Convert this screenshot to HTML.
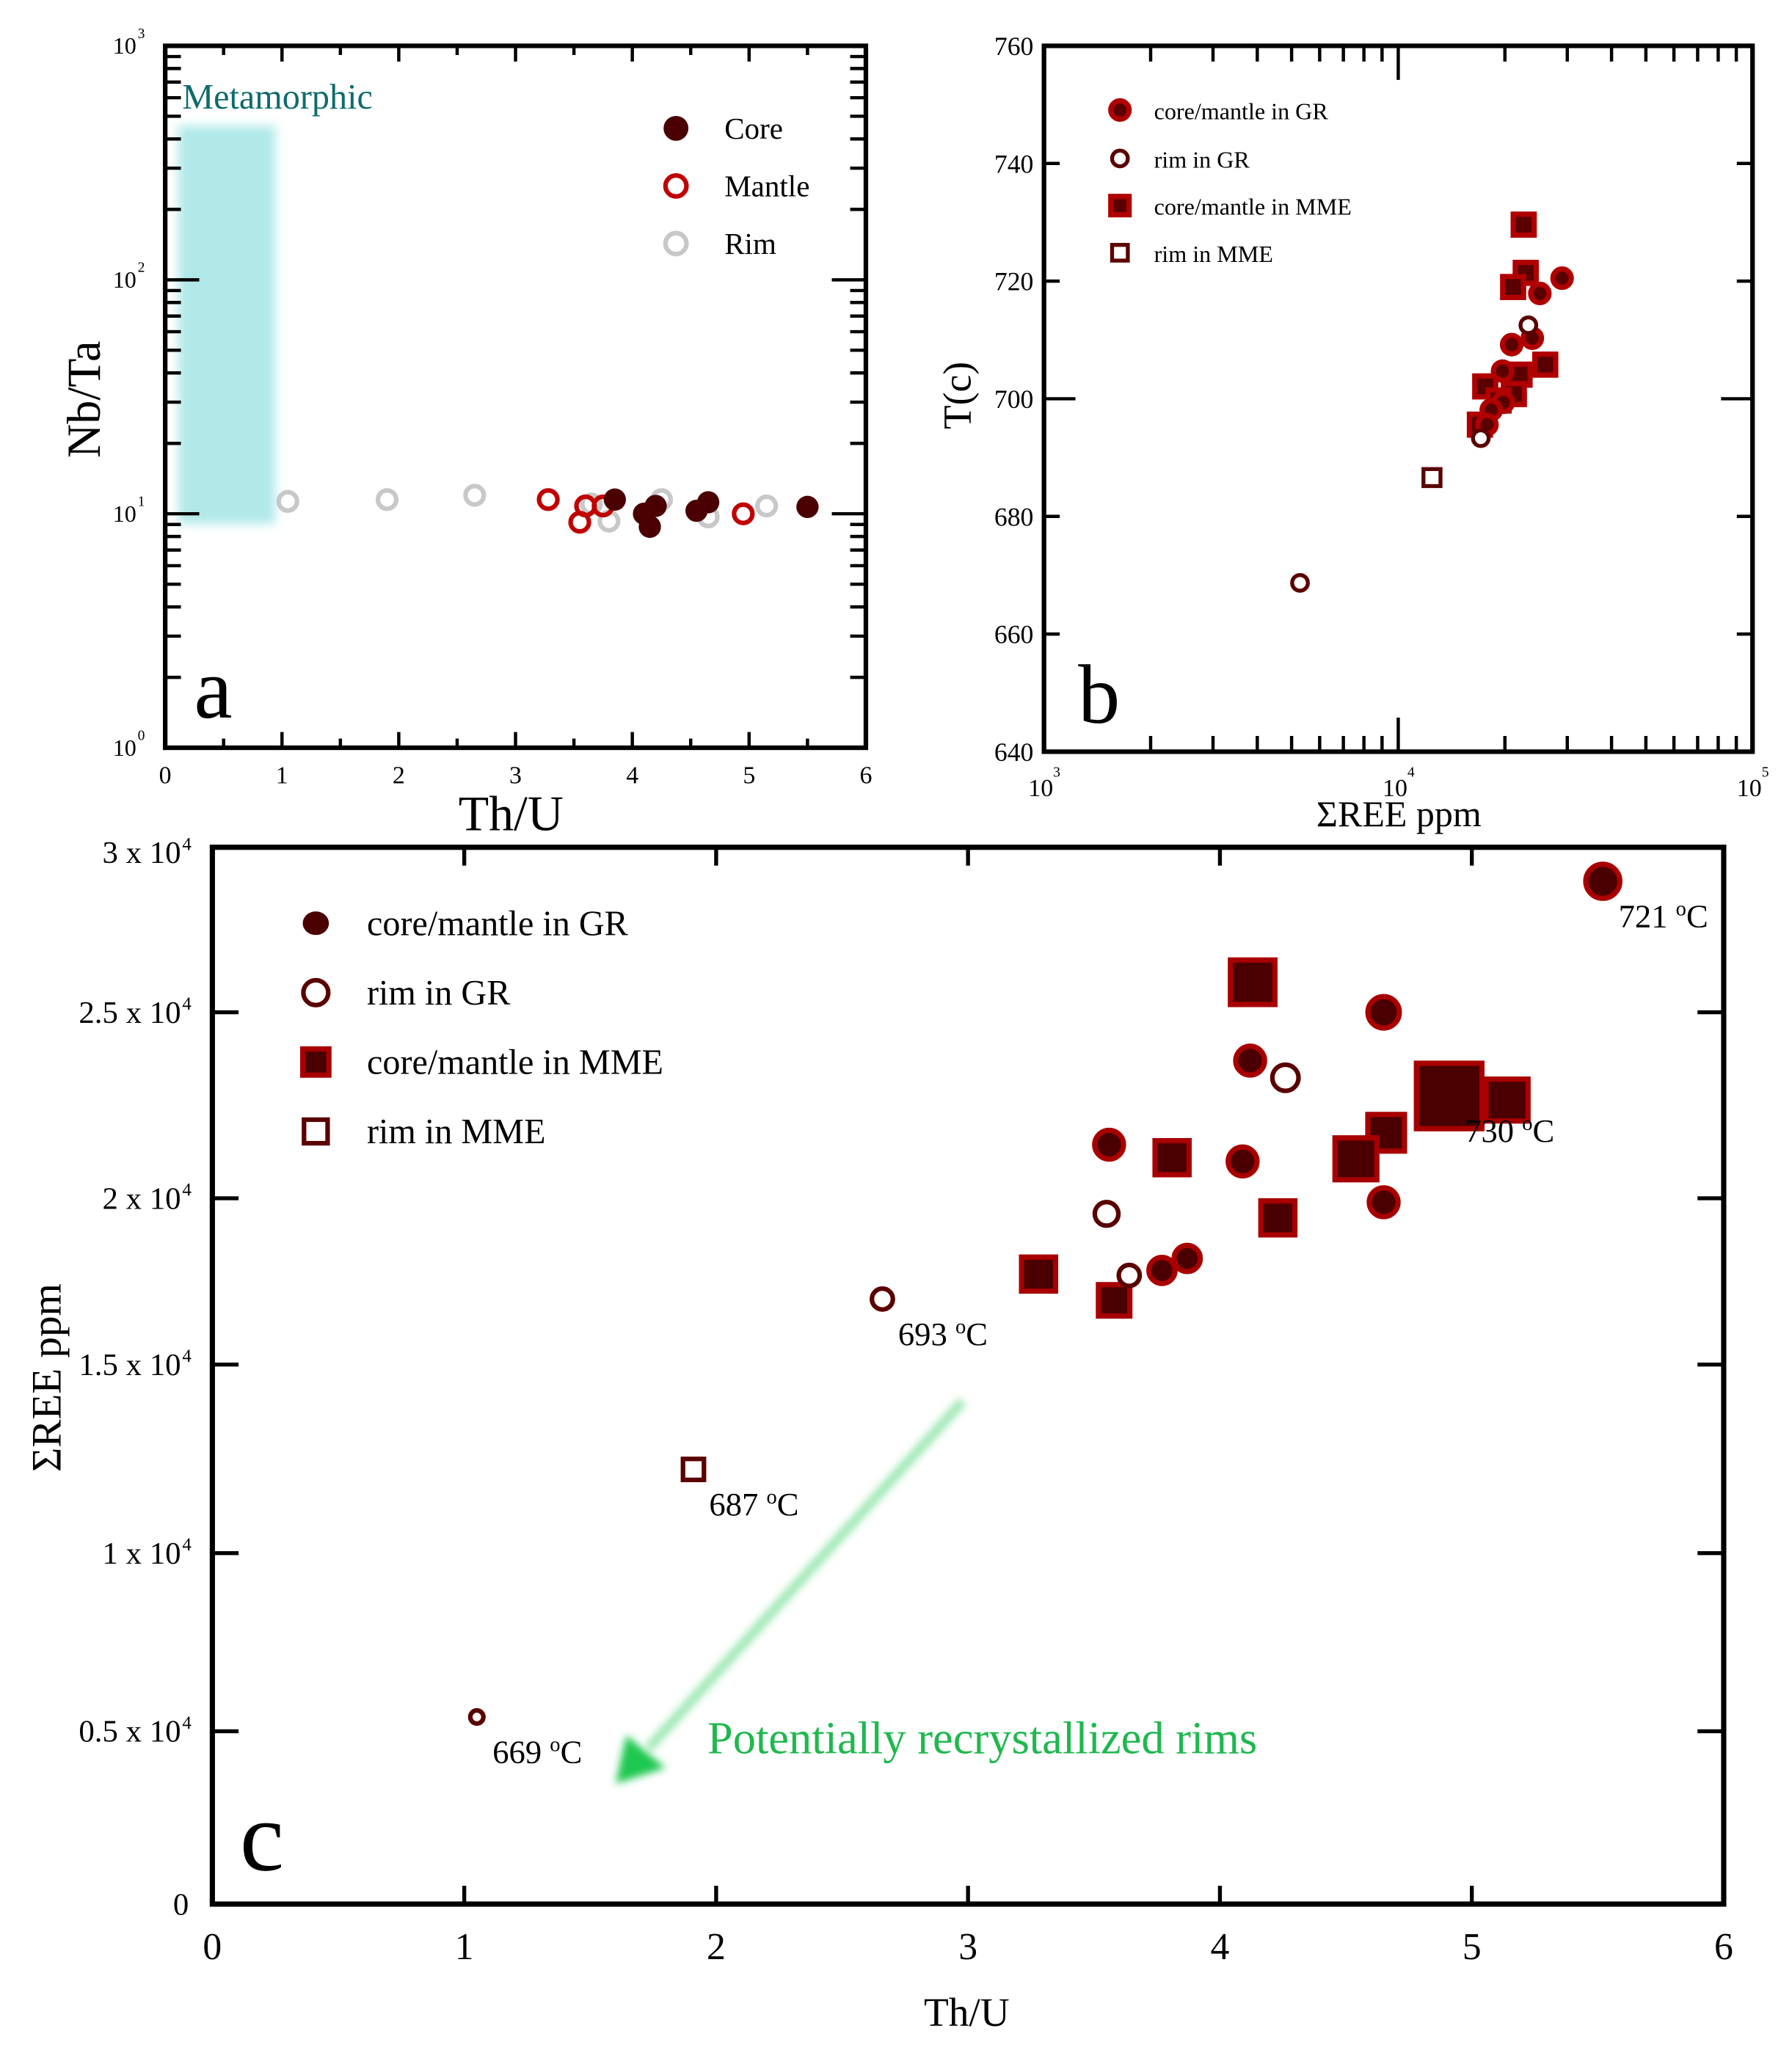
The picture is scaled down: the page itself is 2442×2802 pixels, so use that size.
<!DOCTYPE html>
<html><head><meta charset="utf-8"><style>
html,body{margin:0;padding:0;background:#fff}
svg{display:block;font-family:"Liberation Serif",serif}
</style></head><body>
<svg id="fig" width="2442" height="2802" viewBox="0 0 1368 1570" xmlns="http://www.w3.org/2000/svg">
<defs>
<filter id="blur6" x="-20%" y="-20%" width="140%" height="140%"><feGaussianBlur stdDeviation="4"/></filter>
<filter id="blur3" x="-20%" y="-20%" width="140%" height="140%"><feGaussianBlur stdDeviation="3"/></filter>
</defs>
<g id="pa"></g>
<g id="pb"></g>
<g id="pc"></g>
</svg>
<script>
// ---------- Panel a data ----------
const aRimX=[1.05,1.9,2.65,3.65,3.8,4.25,4.65,5.15];
const aRimY=[11.3,11.5,12,11,9.3,11.5,9.7,10.8];
const aMantleX=[3.28,3.55,3.6,3.75,4.95];
const aMantleY=[11.5,9.2,10.8,10.8,10];
const aCoreX=[3.85,4.1,4.15,4.2,4.55,4.65,5.5];
const aCoreY=[11.5,10,8.8,10.8,10.3,11.2,10.7];
const aXTicks=[0,1,2,3,4,5,6];
const aYTicks=[0,1,2,3];
// ---------- Panel b data ----------
const bGrX=[29000,25100,20900,23900,19700,19800,18300,17800];
const bGrT=[720.5,717.9,709.2,710.3,704.7,699.4,698.1,695.6];
const bRimGrX=[5280,23300,17100];
const bRimGrT=[668.7,712.5,693.3];
const bMmeX=[22600,22900,21100,26000,22000,21200,17600,17000,19200];
const bMmeT=[729.6,721.4,719,705.8,704.1,700.8,702.1,695.6,699.7];
const bRimMmeX=[12450];
const bRimMmeT=[686.6];
const bYTicks=[640,660,680,700,720,740,760];
// ---------- Panel c data ----------
const cGrX=[5.52,4.65,4.12,3.56,4.09,4.65,3.77,3.87];
const cGrY=[29100,25000,23700,21440,20990,19880,17830,18190];
const cGrR=[13,12,11,11,11,11,10,10];
const cRimGrX=[4.26,3.55,3.64,2.66,1.05];
const cRimGrY=[23240,19530,17680,16970,5400];
const cRimGrR=[11,10,9,9,6];
const cMmeX=[4.13,4.91,5.14,4.66,4.54,3.81,4.23,3.28,3.58];
const cMmeY=[25940,22750,22640,21760,21060,21090,19410,17720,16930];
const cMmeS=[17,25,16,14,16,13,13,13,12];
const cRimMmeX=[1.91];
const cRimMmeY=[12220];
const cRimMmeS=[8];
const cYTickVals=[0,5000,10000,15000,20000,25000,30000];
const cYTickLabels=["0","0.5 x 10","1 x 10","1.5 x 10","2 x 10","2.5 x 10","3 x 10"];
const cXTicks=[0,1,2,3,4,5,6];
const cTempLabels=["721","730","693","687","669"];
const cTempX=[5.52,4.91,2.66,1.91,1.05];
const cTempY=[29100,22750,16970,12220,5400];

const NS="http://www.w3.org/2000/svg";
function mk(parent,tag,attrs,text){const e=document.createElementNS(NS,tag);for(const k in attrs)e.setAttribute(k,attrs[k]);if(text!==undefined)e.textContent=text;parent.appendChild(e);return e;}
const DARK="#4a0000",RED="#a80000",RIM="#5a0000";

// ===== Panel A =====
(function(){
const g=document.getElementById('pa');
const L=126,R=661,T=35,B=571;
const xs=v=>L+(v/6)*(R-L);
const ys=v=>B-(Math.log10(v)/3)*(B-T);
let e=mk(g,'rect',{x:136,y:96,width:74,height:304,fill:'#b0e8e8',filter:'url(#blur6)'});

e=mk(g,'text',{x:139,y:83,fill:'#0f6b6b','font-size':27},'Metamorphic');

e=mk(g,'rect',{x:L,y:T,width:R-L,height:B-T,fill:'none',stroke:'#000','stroke-width':3.5});

for(let v=0;v<=6;v+=0.5){const x=xs(v);const len=Number.isInteger(v)?12:7;
 mk(g,'line',{x1:x,y1:T,x2:x,y2:T+len,stroke:'#000','stroke-width':2.5});
 mk(g,'line',{x1:x,y1:B,x2:x,y2:B-len,stroke:'#000','stroke-width':2.5});}
aXTicks.forEach(v=>{e=mk(g,'text',{x:xs(v),y:598,'font-size':19,'text-anchor':'middle'},String(v));
 });
for(let d=0;d<3;d++){for(let m=2;m<=9;m++){const y=ys(m*Math.pow(10,d));
 mk(g,'line',{x1:L,y1:y,x2:L+12,y2:y,stroke:'#000','stroke-width':2.5});
 mk(g,'line',{x1:R,y1:y,x2:R-12,y2:y,stroke:'#000','stroke-width':2.5});}}
aYTicks.forEach(p=>{const y=ys(Math.pow(10,p));
 mk(g,'line',{x1:L,y1:y,x2:L+26,y2:y,stroke:'#000','stroke-width':2.5});
 mk(g,'line',{x1:R,y1:y,x2:R-26,y2:y,stroke:'#000','stroke-width':2.5});
 e=mk(g,'text',{x:86,y:y+6,'font-size':18},'10');
 
 mk(g,'text',{x:105,y:y-6,'font-size':11},String(p));});
e=mk(g,'text',{x:0,y:0,'font-size':36,'text-anchor':'middle',transform:'translate(76,305) rotate(-90)'},'Nb/Ta');

e=mk(g,'text',{x:390,y:634,'font-size':38,'text-anchor':'middle'},'Th/U');

e=mk(g,'text',{x:148,y:548,'font-size':66},'a');

aRimX.forEach((v,i)=>{e=mk(g,'circle',{cx:xs(v),cy:ys(aRimY[i]),r:7,fill:'none',stroke:'#c8c8c8','stroke-width':3.5});
 });
aMantleX.forEach((v,i)=>{e=mk(g,'circle',{cx:xs(v),cy:ys(aMantleY[i]),r:7,fill:'none',stroke:'#c00000','stroke-width':3.5});
 });
aCoreX.forEach((v,i)=>{e=mk(g,'circle',{cx:xs(v),cy:ys(aCoreY[i]),r:8.5,fill:'#4a0000'});
 });
const lg=mk(g,'g',{});
mk(lg,'circle',{cx:516,cy:98,r:9.5,fill:'#4a0000'});
mk(lg,'circle',{cx:516,cy:142,r:8,fill:'none',stroke:'#c00000','stroke-width':3.5});
mk(lg,'circle',{cx:516,cy:186,r:8,fill:'none',stroke:'#c8c8c8','stroke-width':3.5});
mk(lg,'text',{x:553,y:106,'font-size':23},'Core');
mk(lg,'text',{x:553,y:150,'font-size':23},'Mantle');
mk(lg,'text',{x:553,y:194,'font-size':23},'Rim');
})();

// ===== Panel B =====
(function(){
const g=document.getElementById('pb');
const L=797,R=1338,T=35,B=574;
const xs=v=>L+((Math.log10(v)-3)/2)*(R-L);
const ys=v=>B-((v-640)/120)*(B-T);
let e=mk(g,'rect',{x:L,y:T,width:R-L,height:B-T,fill:'none',stroke:'#000','stroke-width':3.5});

for(let d=3;d<5;d++){for(let m=2;m<=9;m++){const x=xs(m*Math.pow(10,d));
 mk(g,'line',{x1:x,y1:T,x2:x,y2:T+12,stroke:'#000','stroke-width':2.5});
 mk(g,'line',{x1:x,y1:B,x2:x,y2:B-12,stroke:'#000','stroke-width':2.5});}}
[4].forEach(p=>{const x=xs(Math.pow(10,p));
 mk(g,'line',{x1:x,y1:T,x2:x,y2:T+26,stroke:'#000','stroke-width':2.5});
 mk(g,'line',{x1:x,y1:B,x2:x,y2:B-26,stroke:'#000','stroke-width':2.5});});
[3,4,5].forEach(p=>{const x=xs(Math.pow(10,p));
 e=mk(g,'text',{x:x-12,y:608,'font-size':19},'10');
 
 mk(g,'text',{x:x+7,y:593,'font-size':11},String(p));});
bYTicks.forEach(v=>{const y=ys(v);const len=(v===700)?24:12;
 mk(g,'line',{x1:L,y1:y,x2:L+len,y2:y,stroke:'#000','stroke-width':2.5});
 mk(g,'line',{x1:R,y1:y,x2:R-len,y2:y,stroke:'#000','stroke-width':2.5});
 e=mk(g,'text',{x:789,y:y+7,'font-size':20,'text-anchor':'end'},String(v));
 });
e=mk(g,'text',{x:0,y:0,'font-size':30,'text-anchor':'middle',transform:'translate(741,302) rotate(-90)'},'T(c)');

e=mk(g,'text',{x:1068,y:631,'font-size':28,'text-anchor':'middle'},'ΣREE ppm');

e=mk(g,'text',{x:823,y:552,'font-size':64},'b');

bRimMmeX.forEach((v,i)=>{e=mk(g,'rect',{x:xs(v)-6.5,y:ys(bRimMmeT[i])-6.5,width:13,height:13,fill:'#fff',stroke:RIM,'stroke-width':3});
 });
bMmeX.forEach((v,i)=>{const x=xs(v),y=ys(bMmeT[i]);
 e=mk(g,'rect',{x:x-8,y:y-8,width:16,height:16,fill:'#5a0000',stroke:'#b00000','stroke-width':4});
 });
bGrX.forEach((v,i)=>{const x=xs(v),y=ys(bGrT[i]);
 e=mk(g,'circle',{cx:x,cy:y,r:7,fill:'#5a0000',stroke:'#b00000','stroke-width':4});
 });
bRimGrX.forEach((v,i)=>{e=mk(g,'circle',{cx:xs(v),cy:ys(bRimGrT[i]),r:6,fill:'#fff',stroke:RIM,'stroke-width':3});
 });
const lg=mk(g,'g',{});
mk(lg,'circle',{cx:855,cy:84,r:7,fill:'#5a0000',stroke:'#b00000','stroke-width':4});
mk(lg,'circle',{cx:855,cy:121,r:6,fill:'#fff',stroke:RIM,'stroke-width':3});
mk(lg,'rect',{x:848,y:150,width:14,height:14,fill:'#5a0000',stroke:'#b00000','stroke-width':4});
mk(lg,'rect',{x:849,y:187,width:12,height:12,fill:'#fff',stroke:RIM,'stroke-width':3});
mk(lg,'text',{x:881,y:91,'font-size':18},'core/mantle in GR');
mk(lg,'text',{x:881,y:128,'font-size':18},'rim in GR');
mk(lg,'text',{x:881,y:164,'font-size':18},'core/mantle in MME');
mk(lg,'text',{x:881,y:200,'font-size':18},'rim in MME');
})();

// ===== Panel C =====
(function(){
const g=document.getElementById('pc');
const L=162,R=1316,T=647,B=1454;
const tickPx=[1454,1322,1186,1042,915,773,651];
const xs=v=>L+(v/6)*(R-L);
const ys=v=>{for(let i=0;i<cYTickVals.length-1;i++){const a=cYTickVals[i],b=cYTickVals[i+1];
 if(v<=b||i===cYTickVals.length-2){return tickPx[i]+(v-a)/(b-a)*(tickPx[i+1]-tickPx[i]);}}};
let e;
const ar=mk(g,'g',{filter:'url(#blur3)'});
mk(ar,'line',{x1:735,y1:1070,x2:495,y2:1335,stroke:'#9ae6b0','stroke-width':7});
mk(ar,'polygon',{points:'470,1362 478,1325 508,1350',fill:'#1ec850'});
e=mk(g,'text',{x:540,y:1339,'font-size':35,fill:'#1fb84e'},'Potentially recrystallized rims');

e=mk(g,'rect',{x:L,y:T,width:R-L,height:B-T,fill:'none',stroke:'#000','stroke-width':4});

cXTicks.forEach(v=>{const x=xs(v);
 mk(g,'line',{x1:x,y1:T,x2:x,y2:T+14,stroke:'#000','stroke-width':3});
 mk(g,'line',{x1:x,y1:B,x2:x,y2:B-14,stroke:'#000','stroke-width':3});
 e=mk(g,'text',{x:x,y:1496,'font-size':29,'text-anchor':'middle'},String(v));
 });
cYTickVals.forEach((v,i)=>{const y=ys(v);
 if(i>0&&i<cYTickVals.length-1){
 mk(g,'line',{x1:L,y1:y,x2:L+20,y2:y,stroke:'#000','stroke-width':3});
 mk(g,'line',{x1:R,y1:y,x2:R-20,y2:y,stroke:'#000','stroke-width':3});}
 const t=mk(g,'text',{x:i===0?144:138,y:y+8,'font-size':24,'text-anchor':'end'},cYTickLabels[i]);
 
 if(i>0)mk(g,'text',{x:139,y:y-2,'font-size':14},'4');});
e=mk(g,'text',{x:0,y:0,'font-size':32,'text-anchor':'middle',transform:'translate(46,1052) rotate(-90)'},'ΣREE ppm');

e=mk(g,'text',{x:738,y:1547,'font-size':31,'text-anchor':'middle'},'Th/U');

e=mk(g,'text',{x:183,y:1428,'font-size':76},'c');

cRimMmeX.forEach((v,i)=>{const s=cRimMmeS[i];e=mk(g,'rect',{x:xs(v)-s,y:ys(cRimMmeY[i])-s,width:2*s,height:2*s,fill:'#fff',stroke:RIM,'stroke-width':3.5});
 });
cMmeX.forEach((v,i)=>{const s=cMmeS[i];e=mk(g,'rect',{x:xs(v)-s,y:ys(cMmeY[i])-s,width:2*s,height:2*s,fill:DARK,stroke:RED,'stroke-width':4});
 });
cGrX.forEach((v,i)=>{e=mk(g,'circle',{cx:xs(v),cy:ys(cGrY[i]),r:cGrR[i],fill:DARK,stroke:RED,'stroke-width':4});
 });
cRimGrX.forEach((v,i)=>{e=mk(g,'circle',{cx:xs(v),cy:ys(cRimGrY[i]),r:cRimGrR[i]-1,fill:'#fff',stroke:RIM,'stroke-width':3.5});
 });
cTempLabels.forEach((t,i)=>{const x=xs(cTempX[i])+12,y=ys(cTempY[i])+35;
 const tx=mk(g,'text',{x:x,y:y,'font-size':25},t+' ');
 
 mk(tx,'tspan',{dy:-9,'font-size':16},'o');
 mk(tx,'tspan',{dy:9},'C');});
const lg=mk(g,'g',{});
mk(lg,'ellipse',{cx:241,cy:705,rx:10,ry:9,fill:DARK});
mk(lg,'circle',{cx:241,cy:758,r:9.5,fill:'#fff',stroke:RIM,'stroke-width':3.5});
mk(lg,'rect',{x:231,y:801,width:20,height:20,fill:DARK,stroke:RED,'stroke-width':4});
mk(lg,'rect',{x:232,y:855,width:18,height:18,fill:'#fff',stroke:RIM,'stroke-width':3.5});
mk(lg,'text',{x:280,y:714,'font-size':27},'core/mantle in GR');
mk(lg,'text',{x:280,y:767,'font-size':27},'rim in GR');
mk(lg,'text',{x:280,y:820,'font-size':27},'core/mantle in MME');
mk(lg,'text',{x:280,y:873,'font-size':27},'rim in MME');
})();
</script>
</body></html>
